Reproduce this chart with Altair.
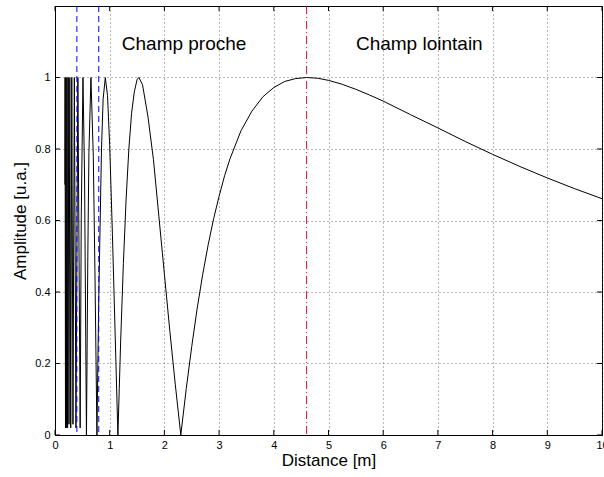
import altair as alt
import pandas as pd

# Curve: distance [m] and amplitude [u.a.]
z = [0.180, 0.184, 0.1917, 0.200, 0.209, 0.219, 0.230, 0.242, 0.2556, 0.2706,
     0.2875, 0.3067, 0.3286, 0.3538, 0.3833, 0.4182, 0.460, 0.480, 0.5111, 0.540,
     0.575, 0.600, 0.620, 0.657, 0.700, 0.730, 0.7667, 0.780, 0.800, 0.850,
     0.880, 0.920, 0.960, 1.000, 1.050, 1.100, 1.120, 1.150, 1.175, 1.200,
     1.250, 1.300, 1.350, 1.400, 1.450, 1.500, 1.533, 1.600, 1.700, 1.800,
     1.900, 2.000, 2.100, 2.200, 2.300, 2.400, 2.500, 2.600, 2.700, 2.800,
     2.900, 3.000, 3.100, 3.200, 3.400, 3.600, 3.800, 4.000, 4.200, 4.400,
     4.600, 4.800, 5.000, 5.250, 5.500, 5.750, 6.000, 6.500, 7.000, 7.500,
     8.000, 8.500, 9.000, 9.500, 10.000]
amp = [0.70, 1.00, 0.02, 1.00, 0.02, 1.00, 0.02, 1.00, 0.03, 1.00,
       0.02, 1.00, 0.03, 1.00, 0.02, 1.00, 0.02, 0.61, 1.00, 0.73,
       0.00, 0.50, 0.79, 1.00, 0.78, 0.46, 0.00, 0.16, 0.38, 0.80,
       0.94, 1.00, 0.95, 0.81, 0.56, 0.28, 0.17, 0.00, 0.13, 0.26,
       0.48, 0.66, 0.80, 0.90, 0.96, 0.994, 1.00, 0.98, 0.89, 0.77,
       0.61, 0.45, 0.29, 0.14, 0.00, 0.13, 0.248, 0.355, 0.449, 0.532,
       0.605, 0.668, 0.725, 0.773, 0.851, 0.906, 0.946, 0.972, 0.989, 0.997,
       1.000, 0.998, 0.992, 0.981, 0.967, 0.951, 0.934, 0.896, 0.859, 0.821,
       0.785, 0.751, 0.719, 0.689, 0.661]

x_ticks = [0, 1, 2, 3, 4, 5, 6, 7, 8, 9, 10]
y_ticks = [0, 0.2, 0.4, 0.6, 0.8, 1.0]
near_lines = [0.4, 0.8]
far_line = [4.6]
zone_labels = ["Champ proche", "Champ lointain"]
zone_x = [2.36, 6.66]
zone_y = [1.095, 1.095]

X_MIN, X_MAX = 0, 10
Y_MIN, Y_MAX = 0, 1.2
TICK_X = 0.09   # inner tick length in x units
TICK_Y = 0.014  # inner tick length in y units

FONT = "Liberation Sans"

curve_df = pd.DataFrame({"z": z, "amp": amp})
xs = alt.Scale(domain=[X_MIN, X_MAX], nice=False, zero=False)
ys = alt.Scale(domain=[Y_MIN, Y_MAX], nice=False, zero=False)

x_axis = alt.Axis(values=x_ticks, grid=True, ticks=False,
                  labelFlush=False, labelOverlap=False, labelPadding=4,
                  titlePadding=2, format="d")
y_axis = alt.Axis(values=y_ticks, grid=True, ticks=False,
                  labelFlush=False, labelOverlap=False, labelPadding=5,
                  titlePadding=5, format="~g")
X_TITLE = "Distance [m]"
Y_TITLE = "Amplitude [u.a.]"


def X(field):
    return alt.X(field, scale=xs, axis=x_axis, title=X_TITLE)


def Y(field):
    return alt.Y(field, scale=ys, axis=y_axis, title=Y_TITLE)


curve = alt.Chart(curve_df).mark_line(color="black", strokeWidth=1, clip=True).encode(
    x=X("z:Q"), y=Y("amp:Q"),
)

blue = alt.Chart(pd.DataFrame({"x": near_lines})).mark_rule(
    color="#0000ff", strokeWidth=1, strokeDash=[6, 4]
).encode(x=X("x:Q"))

red = alt.Chart(pd.DataFrame({"x": far_line})).mark_rule(
    color="#d0142c", strokeWidth=1, strokeDash=[8, 3, 1, 3]
).encode(x=X("x:Q"))

texts = alt.Chart(pd.DataFrame({"t": zone_labels, "x": zone_x, "y": zone_y})).mark_text(
    font=FONT, fontSize=19, color="black", align="center", baseline="middle"
).encode(x=X("x:Q"), y=Y("y:Q"), text="t:N")

xt = pd.DataFrame({"x": x_ticks})
bottom_ticks = alt.Chart(xt).transform_calculate(
    y0=f"{Y_MIN}", y1=f"{Y_MIN + TICK_Y}").mark_rule(color="black", strokeWidth=1).encode(
    x=X("x:Q"), y=Y("y0:Q"), y2="y1:Q")
top_ticks = alt.Chart(xt).transform_calculate(
    y0=f"{Y_MAX}", y1=f"{Y_MAX - TICK_Y}").mark_rule(color="black", strokeWidth=1).encode(
    x=X("x:Q"), y=Y("y0:Q"), y2="y1:Q")

yt = pd.DataFrame({"y": y_ticks})
left_ticks = alt.Chart(yt).transform_calculate(
    x0=f"{X_MIN}", x1=f"{X_MIN + TICK_X}").mark_rule(color="black", strokeWidth=1).encode(
    y=Y("y:Q"), x=X("x0:Q"), x2="x1:Q")
right_ticks = alt.Chart(yt).transform_calculate(
    x0=f"{X_MAX}", x1=f"{X_MAX - TICK_X}").mark_rule(color="black", strokeWidth=1).encode(
    y=Y("y:Q"), x=X("x0:Q"), x2="x1:Q")

chart = alt.layer(
    curve, blue, red, texts, bottom_ticks, top_ticks, left_ticks, right_ticks
).properties(
    width=547, height=429,
    autosize=alt.AutoSizeParams(type="none"),
    padding={"left": 55, "top": 6, "right": 2, "bottom": 42},
    background="white",
).configure_view(
    stroke="black", strokeWidth=1
).configure_axis(
    domainColor="black", domainWidth=1,
    gridColor="#333333", gridOpacity=0.7, gridDash=[1, 3], gridWidth=1,
    labelFont=FONT, labelFontSize=11, labelColor="black",
    titleFont=FONT, titleFontSize=17, titleFontWeight="normal", titleColor="black",
)

chart.save("out.html", embed_options={"renderer": "svg", "actions": False})
